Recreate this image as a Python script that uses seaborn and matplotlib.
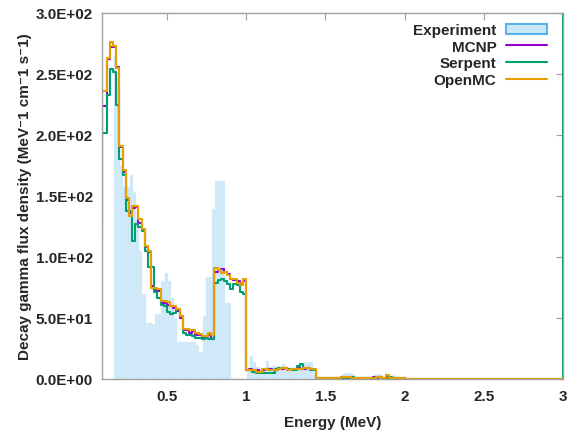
import numpy as np
import pandas as pd
import seaborn as sns
import matplotlib
matplotlib.use("Agg")
import matplotlib.pyplot as plt
from matplotlib.patches import Patch
from matplotlib.lines import Line2D
from matplotlib.ticker import FormatStrFormatter, FuncFormatter

# simulated spectra: bin edges (MeV) and flux per bin
sim_edges = np.round(np.r_[[0.07, 0.09], np.arange(0.12, 2.001, 0.02), [3.0, 3.1]], 3)

openmc = [127, 236,
          263, 276, 273, 255, 191, 171, 148, 134, 142, 142, 131, 123, 109, 105, 75, 75, 74,
          64, 64, 63, 60, 60, 57, 52, 41, 41, 40, 40, 38, 37, 35, 35, 38, 36,
          91, 89, 87, 88, 85, 82, 82, 79, 77, 82,
          7, 7, 7, 6, 6, 8, 8, 7, 7, 7, 8, 9, 9, 7, 8, 8, 8, 8, 9, 9, 8, 8,
          1, 1, 1, 1, 1, 1, 1, 1, 2, 2, 2, 1, 1, 1, 1, 1, 1, 1, 1, 2, 2, 1, 3, 1, 1, 1, 1, 1,
          0, 0]

mcnp = [127, 224,
        262, 272, 272, 256, 190, 170, 147, 136, 140, 141, 128, 122, 108, 104, 76, 73, 72,
        62, 62, 61, 60, 58, 56, 50, 40, 40, 38, 39, 36, 36, 34, 35, 36, 33,
        88, 89, 90, 88, 86, 82, 81, 80, 78, 80,
        7, 8, 7, 7, 6, 7, 8, 8, 7, 7, 8, 8, 9, 8, 8, 8, 9, 8, 8, 9, 8, 7,
        1, 1, 1, 1, 1, 1, 1, 1, 2, 2, 1, 1, 1, 1, 1, 1, 1, 1, 2, 2, 2, 1, 2, 1, 1, 1, 1, 1,
        0, 0]

serpent = [115, 202,
           233, 254, 252, 225, 180, 167, 138, 138, 113, 127, 125, 121, 105, 92, 92, 71, 66,
           61, 60, 55, 53, 54, 57, 52, 38, 36, 36, 35, 34, 34, 33, 34, 33, 33,
           79, 81, 82, 80, 78, 74, 78, 77, 71, 70,
           7, 7, 6, 5, 5, 5, 5, 5, 5, 8, 9, 9, 9, 8, 7, 7, 11, 12, 9, 9, 7, 7,
           1, 1, 1, 1, 1, 1, 1, 1, 1, 1, 2, 2, 1, 1, 1, 1, 1, 1, 1, 1, 2, 1, 1, 2, 1, 1, 1, 1,
           0, 400]

# measured spectrum
exp_edges = np.round(0.165 + 0.02 * np.arange(93), 3)
experiment = [265, 240, 175, 157, 157, 167, 153, 130, 105, 70, 46, 46, 45, 53, 53, 80, 87, 80, 66,
              50, 30, 30, 30, 30, 30, 30, 28, 22, 52, 84, 84, 139, 162, 162, 162, 62, 62,
              0, 0, 0, 0, 0,
              8, 19, 14, 10, 8, 7, 15, 10, 11, 11, 10, 12, 10, 9, 7, 7, 12, 12, 14, 14, 14, 4,
              1, 1, 1, 0, 0, 0, 1, 1, 4, 5, 5, 4, 2, 1, 2, 1, 1, 1, 3, 4, 3, 1, 1, 2, 3, 2, 1, 1]

codes = ["MCNP", "Serpent", "OpenMC"]
colors = {"MCNP": "#9400d3", "Serpent": "#009e73", "OpenMC": "#e69f00"}

rows = []
for name, vals in zip(codes, [mcnp, serpent, openmc]):
    ys = list(vals) + [vals[-1]]
    for e, v in zip(sim_edges, ys):
        rows.append({"E": e, "flux": v, "code": name})
sim_df = pd.DataFrame(rows)

exp_df = pd.DataFrame({
    "E": (exp_edges[:-1] + exp_edges[1:]) / 2,
    "flux": experiment,
})

sns.set_style("white")
plt.rcParams["font.family"] = ["Liberation Sans", "DejaVu Sans"]
plt.rcParams["font.weight"] = "bold"

fig = plt.figure(figsize=(5.67, 4.35), dpi=100)
ax = fig.add_axes([102 / 567, 55 / 435, 461 / 567, 366 / 435])

sns.histplot(data=exp_df, x="E", weights="flux", bins=list(exp_edges), color="#cce8f8",
             alpha=1, edgecolor="#e6f3fc", linewidth=0.25, ax=ax)

sns.lineplot(data=sim_df, x="E", y="flux", hue="code", hue_order=codes,
             palette=colors, drawstyle="steps-post", estimator=None, sort=False,
             linewidth=1.5, legend=False, ax=ax)

ax.set_xlim(0.09, 3.0)
ax.set_ylim(0, 300)
ax.set_xticks([0.5, 1, 1.5, 2, 2.5, 3])
ax.set_yticks(np.arange(0, 301, 50))
ax.xaxis.set_major_formatter(FuncFormatter(lambda v, p: f"{v:g}"))
ax.yaxis.set_major_formatter(FormatStrFormatter("%.1E"))
ax.tick_params(direction="in", top=True, right=True, length=5, width=0.8,
               color="#a0a0a0", labelsize=11)
ax.tick_params(axis="y", pad=6.5)
ax.tick_params(axis="x", pad=7)
for s in ax.spines.values():
    s.set_color("#a0a0a0")
    s.set_linewidth(1)

ax.set_xlabel("Energy (MeV)", fontsize=11, fontweight="bold", labelpad=9)
ax.set_ylabel("Decay gamma flux density (MeV\u207b1 cm\u207b1 s\u207b1)", fontsize=11,
              fontweight="bold", labelpad=3)

handles = [Patch(facecolor="#cce8f8", edgecolor="#56b4e9", linewidth=1.5, label="Experiment")]
handles += [Line2D([], [], color=colors[c], linewidth=1.5, label=c) for c in codes]
ax.legend(handles=handles, loc="upper right", bbox_to_anchor=(0.965, 0.972),
          frameon=False, markerfirst=False, fontsize=11, handlelength=2.7,
          handletextpad=0.6, labelspacing=0.17, borderaxespad=0, borderpad=0)

fig.savefig("out.png", dpi=100)
